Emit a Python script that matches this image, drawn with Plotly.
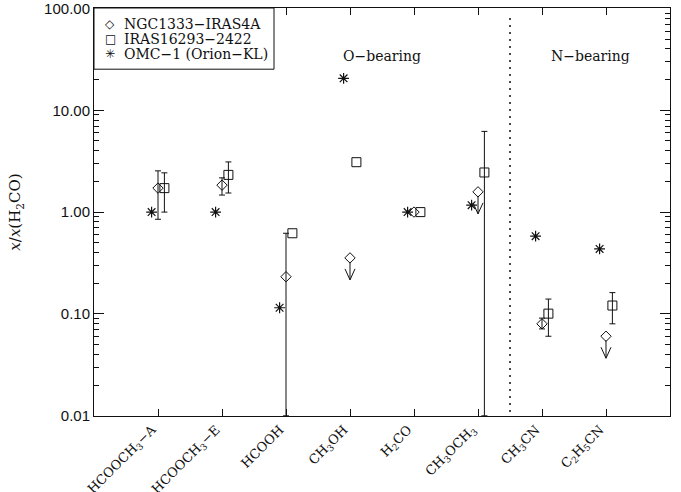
import math
import plotly.graph_objects as go

# ---- data ----
categories = ["HCOOCH3-A", "HCOOCH3-E", "HCOOH", "CH3OH", "H2CO", "CH3OCH3", "CH3CN", "C2H5CN"]
tick_labels = ["HCOOCH<sub>3</sub>−A", "HCOOCH<sub>3</sub>−E", "HCOOH", "CH<sub>3</sub>OH",
               "H<sub>2</sub>CO", "CH<sub>3</sub>OCH<sub>3</sub>", "CH<sub>3</sub>CN", "C<sub>2</sub>H<sub>5</sub>CN"]
cat_pos = [1, 2, 3, 4, 5, 6, 7, 8]

iras4a = [1.72, 1.84, 0.232, 0.355, 1.0, 1.58, 0.080, 0.0604]
iras4a_hi = [2.54, 2.17, 0.62, None, None, None, 0.091, None]
iras4a_lo = [0.85, 1.47, 0.01, None, None, None, 0.0713, None]
iras4a_upper = [False, False, False, True, False, True, False, True]

iras16293 = [1.72, 2.32, 0.62, 3.09, 1.0, 2.45, 0.1007, 0.121]
iras16293_hi = [2.43, 3.11, None, None, None, 6.2, 0.140, 0.162]
iras16293_lo = [1.0, 1.54, None, None, None, 0.01, 0.0604, 0.080]

omc1 = [1.0, 1.0, 0.115, 20.6, 1.0, 1.17, 0.58, 0.435]

series_names = ["NGC1333−IRAS4A", "IRAS16293−2422", "OMC−1 (Orion−KL)"]
series_glyphs = ["◇", "□", "✳"]

y_tickvals = [0.01, 0.1, 1, 10, 100]
y_ticktext = ["0.01", "0.10", "1.00", "10.00", "100.00"]

group_labels = ["O−bearing", "N−bearing"]
group_label_x = [4.5, 7.75]
group_divider = 6.5

serif = "DejaVu Serif"
sans = "Liberation Sans"
ink = "#111111"
off = 0.1

fig = go.Figure()


def add_series(xs, vals, hi, lo, name, symbol, size, lw):
    fig.add_trace(go.Scatter(
        x=xs, y=vals, mode="markers", name=name, showlegend=False,
        marker=dict(symbol=symbol, size=size, color=ink, line=dict(width=lw, color=ink)),
    ))
    if hi is None:
        return
    ex, ey, ep, em = [], [], [], []
    for x, v, h, l in zip(xs, vals, hi, lo):
        if h is None and l is None:
            continue
        ex.append(x)
        ey.append(v)
        ep.append(0 if h is None else h - v)
        em.append(0 if l is None else v - l)
    fig.add_trace(go.Scatter(
        x=ex, y=ey, mode="markers", showlegend=False, hoverinfo="skip",
        marker=dict(size=1, color="rgba(0,0,0,0)"),
        error_y=dict(type="data", symmetric=False, array=ep, arrayminus=em,
                     color=ink, thickness=1, width=3),
    ))


add_series(cat_pos, iras4a, iras4a_hi, iras4a_lo, series_names[0], "diamond-open", 8, 1)
add_series([p + off for p in cat_pos], iras16293, iras16293_hi, iras16293_lo,
           series_names[1], "square-open", 9, 1)
add_series([p - off for p in cat_pos], omc1, None, None, series_names[2], "asterisk-open", 9, 1.2)

# upper-limit arrows for NGC1333-IRAS4A
ax, ay = [], []
shaft_top = 10 ** (-4 / 102)
tip_f = 10 ** (-22 / 102)
arm_f = 10 ** (11 / 102)
dx = 5 / 64
for p, v, u in zip(cat_pos, iras4a, iras4a_upper):
    if not u:
        continue
    tip = v * tip_f
    ax += [p, p, None, p - dx, p, p + dx, None]
    ay += [v * shaft_top, tip, None, tip * arm_f, tip, tip * arm_f, None]
fig.add_trace(go.Scatter(x=ax, y=ay, mode="lines", line=dict(color=ink, width=1),
                         showlegend=False, hoverinfo="skip"))

# group labels
for t, gx in zip(group_labels, group_label_x):
    fig.add_annotation(x=gx, y=math.log10(34), xref="x", yref="y", text=t, showarrow=False,
                       font=dict(family=serif, size=14, color=ink))

fig.add_shape(type="line", xref="x", yref="paper", x0=group_divider, x1=group_divider,
              y0=0.01, y1=0.985, line=dict(color=ink, width=1.5, dash="2px,5px"))

# legend box (drawn manually for compact row spacing)
fig.add_shape(type="rect", xref="paper", yref="paper", x0=0, x1=0.3125, y0=0.85, y1=1,
              line=dict(color=ink, width=1), fillcolor="white", layer="above")
row_y = [0.961, 0.924, 0.887]
for g, n, ry in zip(series_glyphs, series_names, row_y):
    fig.add_annotation(x=0.028, y=ry, xref="paper", yref="paper", text=g, showarrow=False,
                       xanchor="center", yanchor="middle",
                       font=dict(family="DejaVu Sans", size=12, color=ink))
    fig.add_annotation(x=0.048, y=ry, xref="paper", yref="paper", text=n, showarrow=False,
                       xanchor="left", yanchor="middle",
                       font=dict(family=serif, size=14, color=ink))

minor_vals = [m * 10 ** e for e in range(-2, 2) for m in range(2, 10)]

fig.update_layout(
    width=681, height=492,
    margin=dict(l=94, r=11, t=8, b=76),
    paper_bgcolor="white", plot_bgcolor="white",
    showlegend=False,
    xaxis=dict(range=[0, 9], tickmode="array", tickvals=cat_pos, ticktext=tick_labels,
               tickangle=-45, ticks="inside", ticklen=7, tickcolor=ink, showline=True,
               linecolor=ink, linewidth=1, mirror="ticks", showgrid=False, zeroline=False,
               automargin=False, ticklabeloverflow="allow", ticklabelshift=-6,
               tickfont=dict(family=serif, size=13, color=ink)),
    yaxis=dict(type="log", range=[-2.002, 2.004], tickmode="array", tickvals=y_tickvals,
               ticktext=y_ticktext, ticks="inside", ticklen=10, tickcolor=ink,
               showline=True, linecolor=ink, linewidth=1, mirror="ticks", showgrid=False,
               zeroline=False, automargin=False, ticklabeloverflow="allow",
               tickfont=dict(family=sans, size=15, color=ink),
               minor=dict(tickmode="array", tickvals=minor_vals, ticks="inside", ticklen=5,
                          tickcolor=ink, showgrid=False),
               title=dict(text="<i>x</i>/<i>x</i>(H<sub>2</sub>CO)", standoff=19,
                          font=dict(family=serif, size=15, color=ink))),
)

fig.write_html("out.html", config={"displayModeBar": False},
               post_script="document.body.style.margin='0px';")
